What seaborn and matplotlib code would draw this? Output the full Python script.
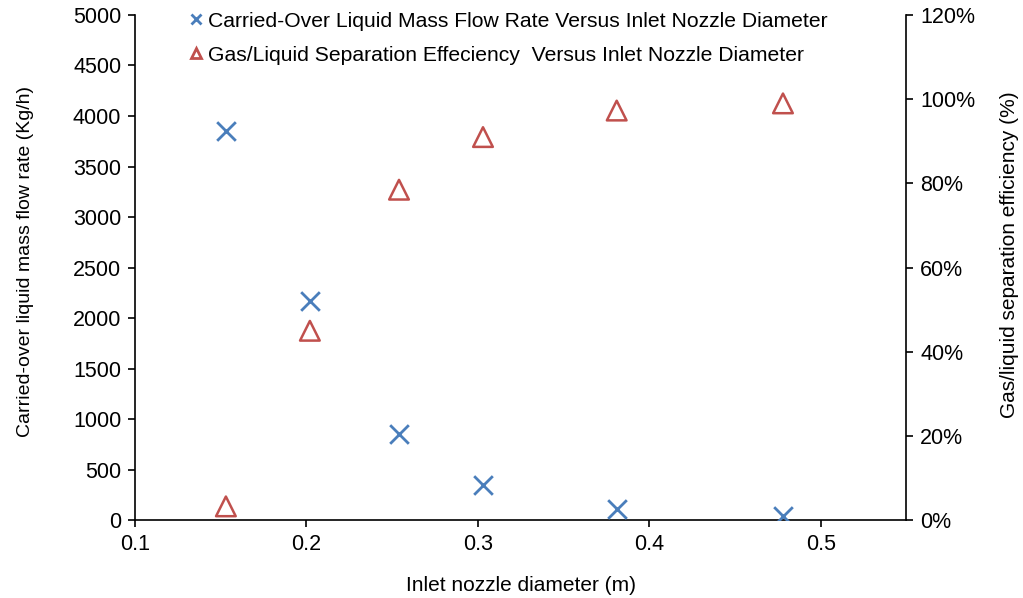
import numpy as np
import pandas as pd
import matplotlib
matplotlib.use("Agg")
import matplotlib.pyplot as plt
import seaborn as sns
from matplotlib.ticker import PercentFormatter

# data
diameter = [0.153, 0.202, 0.254, 0.303, 0.381, 0.478]
carried_over = [3850, 2170, 850, 350, 110, 40]
efficiency = [3.3, 45.0, 78.5, 91.0, 97.3, 99.0]

df = pd.DataFrame({"diameter": diameter,
                   "carried_over": carried_over,
                   "efficiency": efficiency})

sns.set_theme(style="white")
plt.rcParams["font.family"] = ["Liberation Sans", "DejaVu Sans"]
plt.rcParams["font.size"] = 15
plt.rcParams["text.color"] = "black"
plt.rcParams["axes.labelcolor"] = "black"

blue = "#4a7ebb"
red = "#c0504d"

fig, ax = plt.subplots(figsize=(10.23, 5.98), dpi=100)
ax2 = ax.twinx()

sns.scatterplot(data=df, x="diameter", y="carried_over", ax=ax, marker="x",
                s=180, color=blue, linewidth=2, zorder=3)
sns.scatterplot(data=df, x="diameter", y="efficiency", ax=ax2, marker="^",
                s=200, facecolor="none", edgecolor=red, linewidth=1.8, zorder=3)

ax.set_xlim(0.1, 0.55)
ax.set_xticks([0.1, 0.2, 0.3, 0.4, 0.5])
ax.set_ylim(0, 5000)
ax.set_yticks(range(0, 5001, 500))
ax2.set_ylim(0, 120)
ax2.set_yticks(range(0, 121, 20))
ax2.yaxis.set_major_formatter(PercentFormatter(decimals=0))

ax.set_xlabel("Inlet nozzle diameter (m)", fontsize=15, labelpad=15)
ax.set_ylabel("Carried-over liquid mass flow rate (Kg/h)", fontsize=14, labelpad=28)
ax2.set_ylabel("Gas/liquid separation efficiency (%)", fontsize=15, labelpad=18)
ax.yaxis.label.set_y(0.513)
ax2.yaxis.label.set_y(0.525)

for a in (ax, ax2):
    a.spines["top"].set_visible(False)
    for s in a.spines.values():
        s.set_color("black")
        s.set_linewidth(1.2)
    a.tick_params(axis="both", direction="out", length=5, width=1.2,
                  colors="black", labelsize=15.5, pad=5)
ax.tick_params(axis="both", left=True, bottom=True)
ax2.tick_params(axis="y", right=True)
ax.spines["right"].set_visible(False)
ax2.spines["left"].set_visible(False)
ax2.spines["bottom"].set_visible(False)

handles = [
    plt.Line2D([], [], marker="x", color=blue, linestyle="none",
               markersize=7, markeredgewidth=2),
    plt.Line2D([], [], marker="^", color=red, markerfacecolor="none",
               linestyle="none", markersize=7, markeredgewidth=2),
]
labels = ["Carried-Over Liquid Mass Flow Rate Versus Inlet Nozzle Diameter",
          "Gas/Liquid Separation Effeciency  Versus Inlet Nozzle Diameter"]
ax2.legend(handles, labels, loc="upper left", bbox_to_anchor=(0.06, 1.023),
           frameon=False, fontsize=15.2, handlelength=0.6, handletextpad=0.25,
           labelspacing=0.7, borderaxespad=0)

fig.subplots_adjust(left=0.132, right=0.886, top=0.975, bottom=0.13)
fig.savefig("out.png", dpi=100)
